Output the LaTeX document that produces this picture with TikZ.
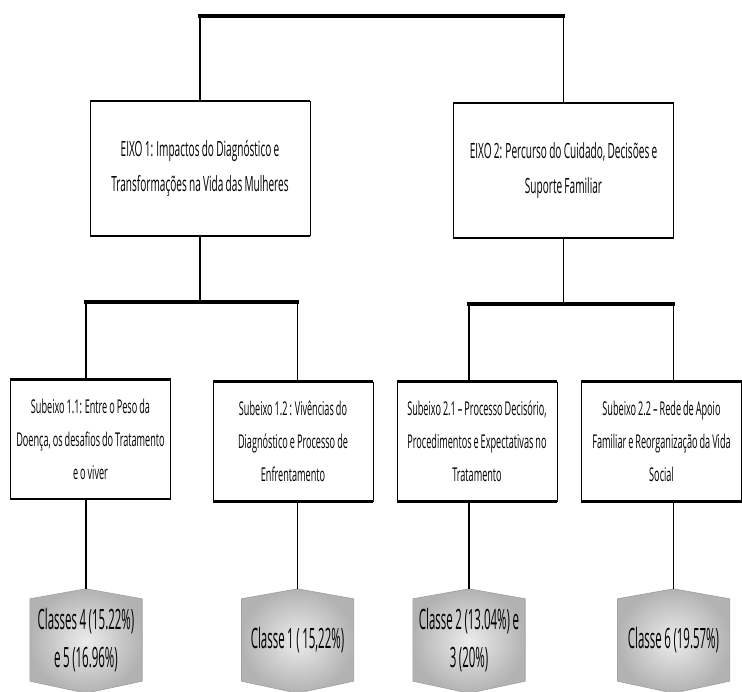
\documentclass[tikz,border=0pt]{standalone}
\usepackage{fontspec}
\setmainfont{Open Sans}[FakeStretch=0.48, WordSpace=0.85]
\newfontfamily\classfont{Open Sans}[FakeStretch=0.41, WordSpace=0.85]
\usepackage{tikz}
\usetikzlibrary{backgrounds}

\tikzset{
  eixo/.style={draw, line width=0.8pt, inner sep=2pt, minimum width=220pt, minimum height=134pt, align=center, font=\fontsize{21}{35}\selectfont},
  sub/.style={draw, line width=0.8pt, inner sep=2pt, minimum width=160pt, minimum height=119pt, align=center, font=\fontsize{19}{33}\selectfont},
  classe/.style={inner sep=0pt, minimum width=112pt, minimum height=82pt, align=center, font=\classfont\fontsize{28}{38}\selectfont},
  bar/.style={line width=3.2pt, line cap=rect},
  link/.style={line width=1.3pt},
  rim/.style={line width=2.2pt},
  hexfill/.style={draw=gray!75, line width=0.6pt, inner color=gray!15, outer color=gray!60}
}

\begin{document}
\begin{tikzpicture}[x=1pt, y=-1pt]
    \useasboundingbox (0,0) rectangle (742,692);
    \clip (0,0) rectangle (742,692);
    % eixos
    \node[eixo] (e1) at (200,168.5) {EIXO 1: Impactos do Diagnóstico e\\Transformações na Vida das Mulheres};
    \node[eixo] (e2) at (563.5,170.5) {EIXO 2: Percurso do Cuidado, Decisões e\\Suporte Familiar};
    % subeixos
    \node[sub] (s11) at (90.5,439.5) {Subeixo 1.1: Entre o Peso da\\Doença, os desafios do Tratamento\\e o viver};
    \node[sub] (s12) at (293,441.5) {Subeixo 1.2 : Vivências do\\Diagnóstico e Processo de\\Enfrentamento};
    \node[sub] (s21) at (477,441.5) {Subeixo 2.1 – Processo Decisório,\\Procedimentos e Expectativas no\\Tratamento};
    \node[sub] (s22) at (661.5,441.5) {Subeixo 2.2 – Rede de Apoio\\Familiar e Reorganização da Vida\\Social};
    % classes
    \node[classe] (c1) at (86,640) {Classes 4 (15.22\%)\\e 5 (16.96\%)};
    \node[classe] (c2) at (297.5,640) {Classe 1 ( 15,22\%)};
    \node[classe] (c3) at (469,640) {Classe 2 (13.04\%) e\\3 (20\%)};
    \node[classe] (c4) at (673.5,640) {Classe 6 (19.57\%)};
    \begin{scope}[on background layer]
    \foreach \c in {c1,c2,c3,c4}
        \shade[hexfill] ([yshift=10pt]\c.north) -- (\c.north east) -- (\c.south east) -- ([yshift=-12pt]\c.south) -- (\c.south west) -- (\c.north west) -- cycle;
    \end{scope}
    \foreach \n in {e1,e2,s11,s12,s21,s22} % thicker top and bottom edges
        \draw[rim] (\n.north west) -- (\n.north east) (\n.south west) -- (\n.south east);
    % tree lines
    \coordinate (t1) at (200,16);
    \coordinate (t2) at (563.5,16);
    \coordinate (m1) at (86,302);
    \coordinate (m2) at (297.5,302);
    \coordinate (m3) at (469,304);
    \coordinate (m4) at (673.5,304);
    \draw[bar] (t1) -- (t2);
    \draw[link] (t1) -- (e1.north);
    \draw[link] (t2) -- (e2.north);
    \draw[bar] (m1) -- (m2);
    \draw[bar] (m3) -- (m4);
    \draw[link] (e1.south) -- (e1.south |- m1);
    \draw[link] (e2.south) -- (e2.south |- m3);
    \draw[link] (m1) -- (m1 |- s11.north);
    \draw[link] (m2) -- (m2 |- s12.north);
    \draw[link] (m3) -- (m3 |- s21.north);
    \draw[link] (m4) -- (m4 |- s22.north);
    \foreach \s/\c in {s11/c1,s12/c2,s21/c3,s22/c4}
        \draw[link] (\s.south -| \c) -- ([yshift=10pt]\c.north);
\end{tikzpicture}
\end{document}
